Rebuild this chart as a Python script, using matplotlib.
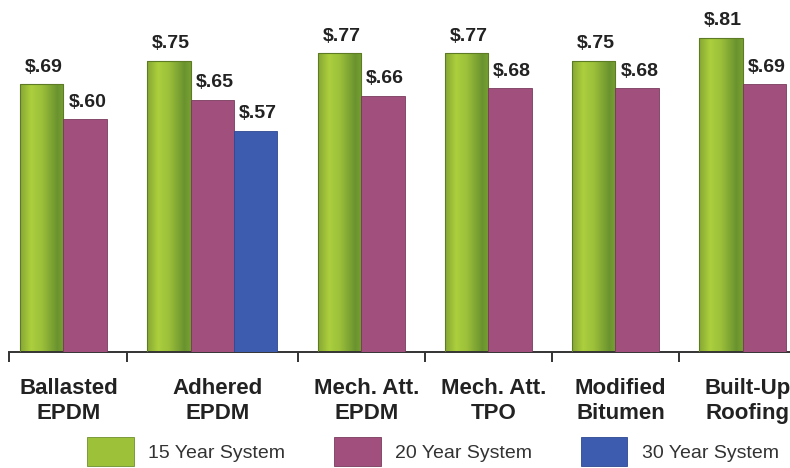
import numpy as np
import matplotlib
matplotlib.use('Agg')
import matplotlib.pyplot as plt
from matplotlib.patches import Patch
from matplotlib.colors import LinearSegmentedColormap

plt.rcParams['font.family'] = ['Liberation Sans', 'DejaVu Sans']

# data (cost per sq ft, by warranty length)
categories = ['Ballasted\nEPDM', 'Adhered\nEPDM', 'Mech. Att.\nEPDM', 'Mech. Att.\nTPO',
              'Modified\nBitumen', 'Built-Up\nRoofing']
series_names = ['15 Year System', '20 Year System', '30 Year System']
year15 = [0.69, 0.75, 0.77, 0.77, 0.75, 0.81]
year20 = [0.60, 0.65, 0.66, 0.68, 0.68, 0.69]
year30 = [None, 0.57, None, None, None, None]

purple = '#a14f7c'
blue = '#3d5caf'
green_cmap = LinearSegmentedColormap.from_list(
    'g', [(0, '#86a634'), (0.25, '#abcf3d'), (0.5, '#9cc03a'), (0.85, '#6a932f'), (1, '#78a033')])

bar_w = 1.0
gap = 0.93

fig = plt.figure(figsize=(7.9, 4.68), dpi=100)
ax = fig.add_axes([0, 1 - 352 / 468, 1, 352 / 468])

# lay out bars group by group (Adhered has three bars)
x = 0.0
group_starts, group_ends = [], []
bars = []  # (x, value, series index)
for i in range(len(categories)):
    group_starts.append(x)
    for s, vals in enumerate([year15, year20, year30]):
        if vals[i] is not None:
            bars.append((x, vals[i], s))
            x += bar_w
    group_ends.append(x)
    x += gap

for bx, v, s in bars:
    if s == 0:
        r = ax.bar(bx, v, width=bar_w, align='edge', color='none',
                   edgecolor='#5d7a25', linewidth=0.8, zorder=3)[0]
        grad = np.linspace(0, 1, 256).reshape(1, -1)
        im = ax.imshow(grad, cmap=green_cmap, aspect='auto', zorder=2,
                       extent=[r.get_x(), r.get_x() + r.get_width(), 0, r.get_height()])
        im.set_clip_path(r)
    else:
        ax.bar(bx, v, width=bar_w, align='edge', color=purple if s == 1 else blue,
               edgecolor='#7a3a5c' if s == 1 else '#2d4890', linewidth=0.6, zorder=3)
    ax.text(bx + bar_w / 2 + 0.05, v + 0.022, '$' + f'{v:.2f}'[1:], ha='center', va='bottom',
            fontsize=14, fontweight='bold', color='#222222')

# category labels under each group
for i, lab in enumerate(categories):
    cx = (group_starts[i] + group_ends[i]) / 2
    ax.text(cx + 0.12, -0.127, lab, ha='center', va='center', fontsize=16,
            fontweight='bold', color='#222222', linespacing=1.25, clip_on=False)

px = (group_ends[-1] - group_starts[0]) / 766.0
left = group_starts[0] - 20 * px
right = group_ends[-1] + 4 * px
ax.set_xlim(left, right)
ax.set_ylim(0, 352 / 388)

ticks = [group_starts[0] - 11 * px] + [(group_ends[i] + group_starts[i + 1]) / 2
                                        for i in range(len(categories) - 1)]
ax.set_xticks(ticks)
ax.set_xticklabels([])
ax.set_yticks([])
ax.tick_params(axis='x', length=7, width=1.4, color='#333333', direction='out')
for sp in ['top', 'right', 'left']:
    ax.spines[sp].set_visible(False)
ax.spines['bottom'].set_color('#333333')
ax.spines['bottom'].set_linewidth(1.4)
ax.spines['bottom'].set_bounds(ticks[0], right)
ax.patch.set_alpha(0)

handles = [Patch(facecolor='#9dc23a', edgecolor='#6e8f2c', linewidth=0.6),
           Patch(facecolor=purple, edgecolor='#7a3a5c', linewidth=0.6),
           Patch(facecolor=blue, edgecolor='#2d4890', linewidth=0.6)]
fig.legend(handles, series_names, loc='upper left', bbox_to_anchor=(87 / 790, 1 - 437 / 468),
           ncol=3, frameon=False, fontsize=14, handlelength=2.4, handleheight=1.9,
           handletextpad=0.75, columnspacing=2.5, borderpad=0, borderaxespad=0,
           labelcolor='#333333')

fig.savefig('out.png', dpi=100)
